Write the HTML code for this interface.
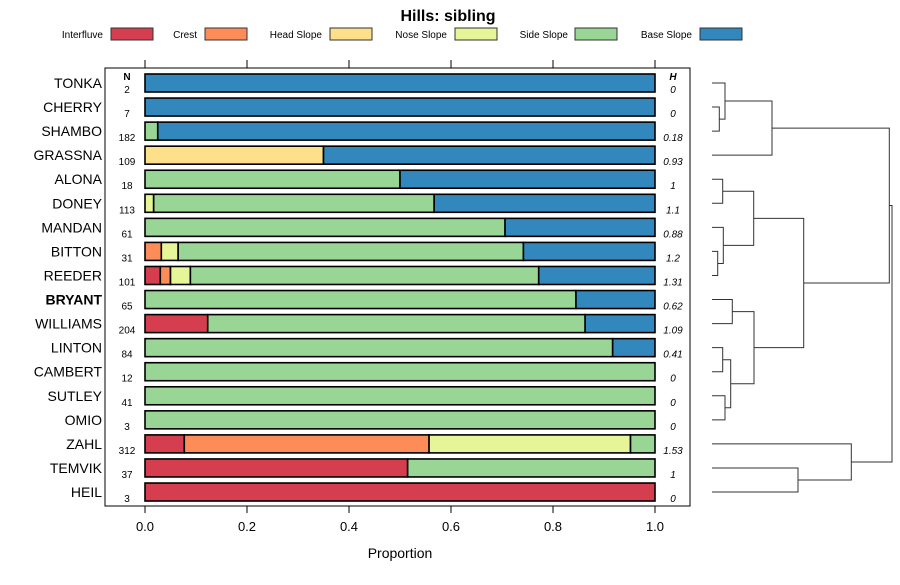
<!DOCTYPE html>
<html><head><meta charset="utf-8">
<style>
body{margin:0;background:#fff;}
svg{font-family:"Liberation Sans",Arial,sans-serif;}
</style></head>
<body>
<svg id="chart" width="900" height="580" viewBox="0 0 900 580" xmlns="http://www.w3.org/2000/svg">
<text x="448" y="21" text-anchor="middle" font-size="16" font-weight="bold">Hills: sibling</text>
<g id="legend"></g>
<rect x="105" y="68" width="585" height="438" fill="none" stroke="#000" stroke-width="1"/>
<g id="axes"></g>
<g id="bars"></g>
<g id="dendro" stroke="#333" fill="none" stroke-width="1"></g>
<text x="400" y="558" text-anchor="middle" font-size="14">Proportion</text>
<text x="127" y="80" text-anchor="middle" font-size="10" font-weight="bold">N</text>
<text x="673" y="80" text-anchor="middle" font-size="10" font-weight="bold" font-style="italic">H</text>
</svg>
<script>
const classes=["Interfluve","Crest","Head Slope","Nose Slope","Side Slope","Base Slope"];
const colors=["#D53E4F","#FC8D59","#FEE08B","#E6F598","#99D594","#3288BD"];
const names=["TONKA","CHERRY","SHAMBO","GRASSNA","ALONA","DONEY","MANDAN","BITTON","REEDER","BRYANT","WILLIAMS","LINTON","CAMBERT","SUTLEY","OMIO","ZAHL","TEMVIK","HEIL"];
const counts=[2,7,182,109,18,113,61,31,101,65,204,84,12,41,3,312,37,3];
const entropy=["0","0","0.18","0.93","1","1.1","0.88","1.2","1.31","0.62","1.09","0.41","0","0","0","1.53","1","0"];
// proportions per class: Interfluve, Crest, Head, Nose, Side, Base
const interfluve=[0,0,0,0,0,0,0,0,0.03,0,0.123,0,0,0,0,0.077,0.515,1];
const crest=[0,0,0,0,0,0,0,0.032,0.02,0,0,0,0,0,0,0.48,0,0];
const headSlope=[0,0,0,0.35,0,0,0,0,0,0,0,0,0,0,0,0,0,0];
const noseSlope=[0,0,0,0,0,0.017,0,0.033,0.039,0,0,0,0,0,0,0.395,0,0];
const sideSlope=[0,0,0.025,0,0.5,0.55,0.706,0.677,0.683,0.845,0.74,0.917,1,1,1,0.048,0.485,0];
const baseSlope=[1,1,0.975,0.65,0.5,0.433,0.294,0.258,0.228,0.155,0.137,0.083,0,0,0,0,0,0];
const xTicks=[0,0.2,0.4,0.6,0.8,1.0];
const NS="http://www.w3.org/2000/svg";
const svg=document.getElementById('chart');
function mk(tag,attrs,parent,text){const e=document.createElementNS(NS,tag);for(const k in attrs)e.setAttribute(k,attrs[k]);if(text!==undefined)e.textContent=text;parent.appendChild(e);return e;}
const x=v=>145+v*510;
const y=i=>83+i*24.06;
// legend
const lg=document.getElementById('legend');
const legTextEnd=[103,197,322,447,568,692],legBox=[111,205,330,455,575,700];
classes.forEach((c,i)=>{
 const t=mk('text',{x:legTextEnd[i],y:38,'text-anchor':'end','font-size':10},lg,c);
 
 
 const r=mk('rect',{x:legBox[i],y:28,width:42,height:12,fill:colors[i],stroke:'#333','stroke-width':1},lg);
 
 
});
// axes
const ax=document.getElementById('axes');
xTicks.forEach(t=>{
 const a=mk('line',{x1:x(t),x2:x(t),y1:60,y2:68,stroke:'#000'},ax);
 
 
 const b=mk('line',{x1:x(t),x2:x(t),y1:506,y2:513,stroke:'#000'},ax);
 
 
 const l=mk('text',{x:x(t),y:531,'text-anchor':'middle','font-size':13},ax,t.toFixed(1));
 
 
});
// bars
const bg=document.getElementById('bars');
const series=[interfluve,crest,headSlope,noseSlope,sideSlope,baseSlope];
names.forEach((n,i)=>{
 const cy=y(i);
 const lab=mk('text',{x:102,y:cy+5,'text-anchor':'end','font-size':14,'font-weight':n==='BRYANT'?'bold':'normal'},bg,n);
 
 
 const nt=mk('text',{x:127,y:cy+10,'text-anchor':'middle','font-size':10},bg,counts[i]);
 
 
 const ht=mk('text',{x:673,y:cy+10,'text-anchor':'middle','font-size':10,'font-style':'italic'},bg,entropy[i]);
 
 
 let cum=0;
 series.forEach((s,k)=>{
  const v=s[i]; if(v<=0)return;
  const r=mk('rect',{x:x(cum),y:cy-9,width:x(cum+v)-x(cum),height:18,fill:colors[k],stroke:'#000','stroke-width':1.6},bg);
  
  
  cum+=v;
 });
});
// dendrogram
const dg=document.getElementById('dendro');
const L=712;
function link(x0a,ya,x0b,yb,h){const p=mk('path',{d:`M${x0a},${ya}H${h}V${yb}H${x0b}`},dg);return {x:h,y:(ya+yb)/2};}
const lf=i=>({x:L,y:y(i)});
function m(a,b,h){return link(a.x,a.y,b.x,b.y,h);}
const c12=m(lf(1),lf(2),719.3);
const c012=m(lf(0),c12,725);
const cA=m(c012,lf(3),772);
const c45=m(lf(4),lf(5),722.7);
const c78=m(lf(7),lf(8),717.7);
const c678=m(lf(6),c78,723.3);
const cB=m(c45,c678,753.7);
const c910=m(lf(9),lf(10),732.3);
const c1112=m(lf(11),lf(12),722.7);
const c1314=m(lf(13),lf(14),725);
const cC1=m(c1112,c1314,730.7);
const cC=m(c910,cC1,754);
const cBC=m(cB,cC,803.7);
const cTop=m(cA,cBC,889.3);
const c1617=m(lf(16),lf(17),798);
const cD=m(lf(15),c1617,851.3);
m(cTop,cD,892);
</script>
</body></html>
